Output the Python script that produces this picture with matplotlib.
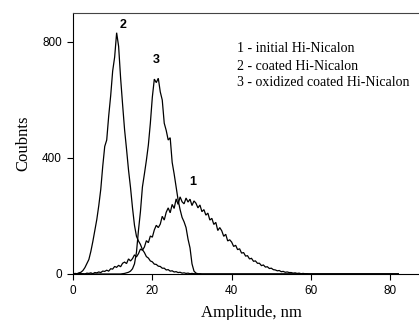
import numpy as np
import matplotlib
matplotlib.use("Agg")
import matplotlib.pyplot as plt

# ---------------- data ----------------
amp_step = 0.5          # nm between channels
channel_max = 82.0      # last recorded channel (nm)

# 1 - initial Hi-Nicalon, channels from 0 nm
initial_x0 = 0.0
initial = [0, 1, 0, 2, 1, 1, 0, 3, 2, 4, 1, 5, 4, 7, 5, 10, 9, 13, 10, 18,
           17, 26, 23, 30, 25, 37, 41, 36, 52, 45, 53, 66, 59, 70, 86, 82, 93, 115, 108, 131,
           127, 152, 168, 160, 172, 199, 186, 213, 228, 211, 240, 226, 259, 240, 266, 249, 242, 262, 248, 258,
           236, 252, 244, 228, 238, 215, 222, 203, 210, 186, 192, 171, 178, 150, 160, 149, 130, 137, 114, 118,
           110, 95, 99, 84, 87, 72, 74, 62, 63, 52, 54, 44, 45, 37, 37, 29, 31, 24, 25, 19,
           20, 15, 14, 11, 12, 8, 9, 6, 7, 5, 5, 3, 4, 2, 3, 1, 2, 1, 1, 0, 0]

# 2 - coated Hi-Nicalon, channels from 0 nm
coated_x0 = 0.0
coated = [0, 2, 1, 4, 6, 12, 22, 36, 50, 78, 112, 150, 188, 236, 292, 372, 440, 462, 545, 615,
          700, 748, 832, 785, 676, 585, 498, 430, 358, 298, 228, 168, 130, 114, 102, 84, 74, 60, 55, 45,
          42, 34, 33, 27, 26, 20, 20, 14, 15, 10, 11, 7, 8, 5, 6, 3, 4, 2, 3, 1,
          2, 1, 1, 0, 1, 0, 0]

# 3 - oxidized coated Hi-Nicalon, channels from 12 nm
oxidized_x0 = 12.0
oxidized = [0, 1, 2, 4, 6, 10, 18, 35, 75, 150, 215, 300, 345, 392, 445, 520, 610, 672, 660, 675,
            628, 600, 520, 495, 462, 470, 385, 345, 300, 255, 222, 195, 180, 160, 120, 90, 35, 10, 3, 1, 0]

labels = ["1", "2", "3"]
label_pos = [(30.3, 318), (12.5, 859), (21.1, 738)]
legend_lines = ["1 - initial Hi-Nicalon", "2 - coated Hi-Nicalon",
                "3 - oxidized coated Hi-Nicalon"]
legend_y = [776, 717, 662]
legend_x = 41.3

xticks = [0, 20, 40, 60, 80]
yticks = [0, 400, 800]


def series(x0, vals):
    x = x0 + np.arange(len(vals)) * amp_step
    x = np.concatenate([[0.0], x, [channel_max]])
    y = np.concatenate([[0.0], np.asarray(vals, float), [0.0]])
    return x, y


fig = plt.figure(figsize=(4.19, 3.20), dpi=100)
ax = fig.add_axes([73 / 419, 46 / 320, (430 - 73) / 419, (274 - 13) / 320])

for x0, vals in [(initial_x0, initial), (coated_x0, coated), (oxidized_x0, oxidized)]:
    x, y = series(x0, vals)
    ax.plot(x, y, color="black", lw=0.9, solid_joinstyle="miter")

ax.set_xlim(0, 90)
ax.set_ylim(0, 900)
ax.set_xticks(xticks)
ax.set_yticks(yticks)
ax.tick_params(direction="out", length=4.5, width=0.8, labelsize=8.5)
for lab in ax.get_xticklabels() + ax.get_yticklabels():
    lab.set_family("Liberation Sans")
for s in ax.spines.values():
    s.set_linewidth(0.8)
ax.spines["top"].set_color("#444444")

ax.set_xlabel("Amplitude, nm", family="Liberation Serif", fontsize=12, labelpad=6)
ax.set_ylabel("Coubnts", family="Liberation Serif", fontsize=12, labelpad=8)

for t, (lx, ly) in zip(labels, label_pos):
    ax.text(lx, ly, t, ha="center", va="center", fontsize=9, fontweight="bold",
            family="Liberation Sans")

for t, ly in zip(legend_lines, legend_y):
    ax.text(legend_x, ly, t, ha="left", va="center", fontsize=10,
            family="Liberation Serif")

fig.savefig("out.png", dpi=100)
